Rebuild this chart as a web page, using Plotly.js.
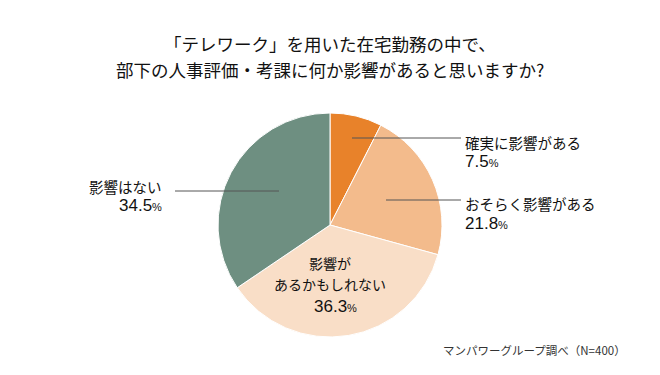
<!DOCTYPE html>
<html>
<head>
<meta charset="utf-8">
<script src="https://cdn.plot.ly/plotly-3.0.1.min.js"></script>
<style>
html,body{margin:0;padding:0;background:#fff;}
#chart{width:660px;height:375px;}
</style>
</head>
<body>
<div id="chart"></div>
<script>
const categories = ["確実に影響がある", "おそらく影響がある", "影響があるかもしれない", "影響はない"];
const values = [7.5, 21.8, 36.3, 34.5];
const colors = ["#E8822A", "#F3BB8C", "#F9DEC7", "#6E8F81"];
const labelLines = [["確実に影響がある"], ["おそらく影響がある"], ["影響が", "あるかもしれない"], ["影響はない"]];
const titleLines = ["「テレワーク」を用いた在宅勤務の中で、", "部下の人事評価・考課に何か影響があると思いますか?"];
const sourceText = "マンパワーグループ調べ（N=400）";

const W = 660, H = 375;
const px = x => x / W;
const py = y => 1 - y / H;
const FONT = "'Noto Sans CJK JP', 'Noto Sans', sans-serif";
const NUMFONT = "'Liberation Sans Narrow', 'Liberation Sans', 'Noto Sans CJK JP', sans-serif";

function pct(v) {
  return v.toFixed(1) + '<span style="font-size:11px">%</span>';
}

const data = [{
  type: 'pie',
  labels: categories,
  values: values,
  sort: false,
  direction: 'clockwise',
  rotation: 0,
  textinfo: 'none',
  hoverinfo: 'label+percent',
  marker: {colors: colors, line: {color: '#ffffff', width: 1}},
  domain: {x: [px(218), px(442)], y: [py(337), py(113)]},
  showlegend: false
}];

const annotations = [
  {x: px(330), y: py(43), xanchor: 'center', yanchor: 'middle', text: titleLines[0], font: {size: 17.5}},
  {x: px(330), y: py(70), xanchor: 'center', yanchor: 'middle', text: titleLines[1], font: {size: 17.5}},
  {x: px(463), y: py(142), xanchor: 'left', yanchor: 'middle', text: labelLines[0][0], font: {size: 14.5}},
  {x: px(463), y: py(161), xanchor: 'left', yanchor: 'middle', text: pct(values[0]), font: {size: 17, family: NUMFONT}},
  {x: px(463), y: py(203), xanchor: 'left', yanchor: 'middle', text: labelLines[1][0], font: {size: 14.5}},
  {x: px(463), y: py(223), xanchor: 'left', yanchor: 'middle', text: pct(values[1]), font: {size: 17, family: NUMFONT}},
  {x: px(164), y: py(186), xanchor: 'right', yanchor: 'middle', text: labelLines[3][0], font: {size: 14.5}},
  {x: px(164), y: py(205), xanchor: 'right', yanchor: 'middle', text: pct(values[3]), font: {size: 17, family: NUMFONT}},
  {x: px(330), y: py(263), xanchor: 'center', yanchor: 'middle', text: labelLines[2][0], font: {size: 14}},
  {x: px(330), y: py(284), xanchor: 'center', yanchor: 'middle', text: labelLines[2][1], font: {size: 14}},
  {x: px(336), y: py(306), xanchor: 'center', yanchor: 'middle', text: pct(values[2]), font: {size: 17, family: NUMFONT}},
  {x: px(628), y: py(350), xanchor: 'right', yanchor: 'middle', text: sourceText, font: {size: 11.5, color: '#333'}}
].map(a => Object.assign({xref: 'paper', yref: 'paper', showarrow: false}, a, {font: Object.assign({family: FONT, color: '#111'}, a.font)}));

const lineStyle = {color: '#555555', width: 1};
const shapes = [
  {type: 'line', xref: 'paper', yref: 'paper', x0: px(352), x1: px(461), y0: py(138), y1: py(138), line: lineStyle},
  {type: 'line', xref: 'paper', yref: 'paper', x0: px(386), x1: px(461), y0: py(200), y1: py(200), line: lineStyle},
  {type: 'line', xref: 'paper', yref: 'paper', x0: px(175), x1: px(279), y0: py(191), y1: py(191), line: lineStyle}
];

const layout = {
  width: W, height: H,
  margin: {l: 0, r: 0, t: 0, b: 0},
  paper_bgcolor: '#ffffff',
  plot_bgcolor: '#ffffff',
  annotations: annotations,
  shapes: shapes,
  showlegend: false
};

Plotly.newPlot('chart', data, layout, {displayModeBar: false, staticPlot: true});
</script>
</body>
</html>
